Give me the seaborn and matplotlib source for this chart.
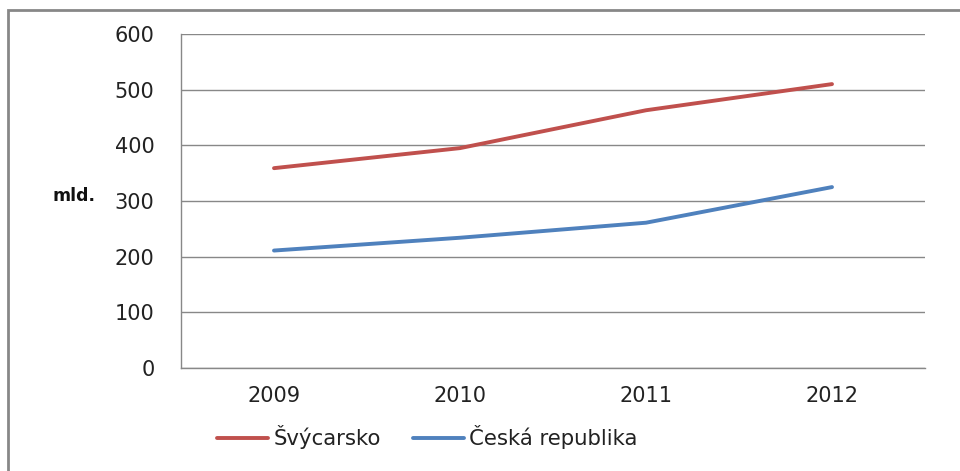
import pandas as pd
import matplotlib
matplotlib.use("Agg")
import matplotlib.pyplot as plt
import seaborn as sns
from matplotlib.patches import Rectangle

# Data
years = ["2009", "2010", "2011", "2012"]
svycarsko = [359, 395, 463, 510]
cesko = [211, 234, 261, 325]
series_names = ["Švýcarsko", "Česká republika"]
colors = ["#C0504D", "#4F81BD"]

df = pd.DataFrame({
    "Rok": years * 2,
    "Hodnota": svycarsko + cesko,
    "Země": [series_names[0]] * 4 + [series_names[1]] * 4,
})

sns.set_style("white")
plt.rcParams["font.family"] = ["DejaVu Sans"]

fig = plt.figure(figsize=(9.6, 4.71), dpi=100)
ax = fig.add_axes([181 / 960, 1 - 368 / 471, 744 / 960, 334 / 471])

sns.lineplot(data=df, x="Rok", y="Hodnota", hue="Země", palette=colors,
             linewidth=2.8, ax=ax, legend=True)

ax.set_xlim(-0.5, 3.5)
ax.set_ylim(0, 600)
ax.set_yticks(range(0, 601, 100))
ax.grid(axis="y", color="#888888", linewidth=1)
ax.set_axisbelow(True)
for side in ["top", "right"]:
    ax.spines[side].set_visible(False)
for side in ["left", "bottom"]:
    ax.spines[side].set_color("#888888")
    ax.spines[side].set_linewidth(1)
ax.tick_params(axis="both", length=0, labelsize=15, colors="#222222")
ax.tick_params(axis="y", pad=19)
ax.tick_params(axis="x", pad=13)
ax.set_xlabel("")
ax.set_ylabel("")

fig.text(52 / 960, 1 - 196 / 471, "mld.", fontsize=12.5, fontweight="bold",
         ha="left", va="center", color="#111111")

ax.get_legend().remove()
handles, labels = ax.get_legend_handles_labels()
fig.legend(handles, labels, loc="center left", bbox_to_anchor=(217 / 960, 1 - 437 / 471),
           ncol=2, frameon=False, fontsize=15.3, handlelength=2.4,
           handletextpad=0.25, columnspacing=1.5, borderaxespad=0, borderpad=0,
           labelcolor="#222222")

# outer chart border
fig.patches.append(Rectangle((8 / 960, -0.1), 1.1, 1.1 - 10 / 471,
                             transform=fig.transFigure, fill=False,
                             edgecolor="#878787", linewidth=2))

fig.savefig("out.png", dpi=100)
